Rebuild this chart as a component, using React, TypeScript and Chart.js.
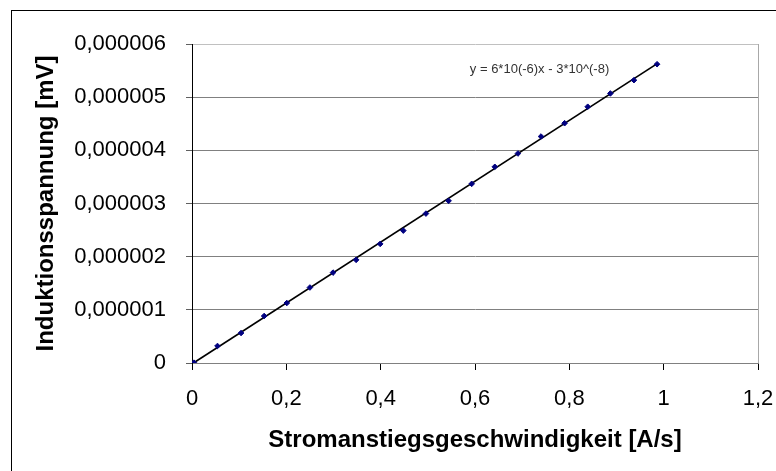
import React, { useEffect, useRef } from "react";
import { Chart, registerables } from "chart.js";

Chart.register(...registerables);

const xValues = [0.004, 0.054, 0.104, 0.153, 0.201, 0.25, 0.299, 0.348, 0.399, 0.448, 0.496, 0.544, 0.593, 0.642, 0.691, 0.74, 0.79, 0.839, 0.887, 0.937, 0.986];
const yValues = [0.006, 0.32, 0.564, 0.884, 1.128, 1.42, 1.7, 1.94, 2.24, 2.49, 2.81, 3.05, 3.37, 3.69, 3.94, 4.26, 4.51, 4.82, 5.07, 5.32, 5.62].map((v) => v * 1e-6);
const trendX = [0.003, 0.988];
const trendY = [0.0, 5.64e-6];
const yTickValues = [0, 1e-6, 2e-6, 3e-6, 4e-6, 5e-6, 6e-6];
const yTickLabels = ["0", "0,000001", "0,000002", "0,000003", "0,000004", "0,000005", "0,000006"];
const xTickValues = [0, 0.2, 0.4, 0.6, 0.8, 1, 1.2];
const xTickLabels = ["0", "0,2", "0,4", "0,6", "0,8", "1", "1,2"];
const equationText = "y = 6*10(-6)x - 3*10^(-8)";
const equationAt = { x: 0.589, y: 5.52e-6 };
const xTitle = "Stromanstiegsgeschwindigkeit [A/s]";
const yTitle = "Induktionsspannung [mV]";

const FONT = "'Liberation Sans', Arial, sans-serif";

export default function App() {
  const ref = useRef<HTMLCanvasElement | null>(null);

  useEffect(() => {
    document.body.style.margin = "0";
    const canvas = ref.current;
    if (!canvas) return;

    const framePlugin = {
      id: "frame",
      beforeDraw(chart: any) {
        const ctx = chart.ctx;
        ctx.save();
        ctx.fillStyle = "#ffffff";
        ctx.fillRect(0, 0, chart.width, chart.height);
        ctx.strokeStyle = "#000000";
        ctx.lineWidth = 1;
        ctx.strokeRect(11.5, 10.5, 900, 600);
        ctx.restore();
      },
      afterDraw(chart: any) {
        const ctx = chart.ctx;
        const { chartArea, scales } = chart;
        ctx.save();
        ctx.strokeStyle = "#a8a8a8";
        ctx.lineWidth = 1;
        ctx.beginPath();
        ctx.moveTo(Math.round(chartArea.right) + 0.5, chartArea.top);
        ctx.lineTo(Math.round(chartArea.right) + 0.5, chartArea.bottom);
        ctx.stroke();
        ctx.fillStyle = "#333333";
        ctx.font = "13px " + FONT;
        ctx.textAlign = "left";
        ctx.textBaseline = "middle";
        ctx.fillText(equationText, scales.x.getPixelForValue(equationAt.x), scales.y.getPixelForValue(equationAt.y));
        ctx.restore();
      },
    };

    const chart = new Chart(canvas, {
      type: "scatter",
      data: {
        datasets: [
          {
            label: "Messwerte",
            data: xValues.map((x, i) => ({ x, y: yValues[i] })),
            pointStyle: "rectRot",
            pointRadius: 2.8,
            pointBackgroundColor: "#000080",
            pointBorderColor: "#000080",
            pointBorderWidth: 1,
            showLine: false,
          },
          {
            label: "Trend",
            data: trendX.map((x, i) => ({ x, y: trendY[i] })),
            showLine: true,
            borderColor: "#000000",
            borderWidth: 1.7,
            pointRadius: 0,
            fill: false,
          },
        ],
      },
      options: {
        animation: false,
        responsive: false,
        layout: { padding: { left: 0, top: 44, right: 18, bottom: 0 } },
        plugins: { legend: { display: false }, tooltip: { enabled: false } },
        scales: {
          x: {
            type: "linear",
            min: 0,
            max: 1.2,
            afterBuildTicks: (s: any) => {
              s.ticks = xTickValues.map((v) => ({ value: v }));
            },
            afterFit: (s: any) => {
              s.height = 108;
              s.paddingLeft = 0;
              s.paddingRight = 0;
            },
            ticks: {
              callback: (_v: any, i: number) => xTickLabels[i],
              font: { family: FONT, size: 22 },
              color: "#000000",
              padding: 16,
              maxRotation: 0,
              autoSkip: false,
            },
            grid: {
              drawOnChartArea: false,
              drawTicks: true,
              tickLength: 7,
              tickColor: "#000000",
            },
            border: { color: "#808080", width: 1 },
            title: {
              display: true,
              text: xTitle,
              font: { family: FONT, size: 24, weight: "bold" },
              color: "#000000",
              padding: { top: 0, bottom: 16 },
            },
          },
          y: {
            type: "linear",
            min: 0,
            max: 6e-6,
            afterBuildTicks: (s: any) => {
              s.ticks = yTickValues.map((v) => ({ value: v }));
            },
            afterFit: (s: any) => {
              s.width = 192;
              s.paddingTop = 0;
              s.paddingBottom = 0;
            },
            ticks: {
              callback: (_v: any, i: number) => yTickLabels[i],
              font: { family: FONT, size: 22 },
              color: "#000000",
              padding: 20,
              autoSkip: false,
            },
            grid: {
              color: (c: any) => (c.index === yTickValues.length - 1 ? "#c0c0c0" : "#808080"),
              tickColor: "#606060",
              tickLength: 6,
              lineWidth: 1,
            },
            border: { color: "#000000", width: 1 },
            title: {
              display: true,
              text: yTitle,
              font: { family: FONT, size: 24, weight: "bold" },
              color: "#000000",
              padding: { top: 32, bottom: 0 },
            },
          },
        },
      },
      plugins: [framePlugin],
    } as any);

    return () => chart.destroy();
  }, []);

  return (
    <div style={{ width: 776, height: 471 }}>
      <canvas ref={ref} width={776} height={471} style={{ display: "block" }} />
    </div>
  );
}
